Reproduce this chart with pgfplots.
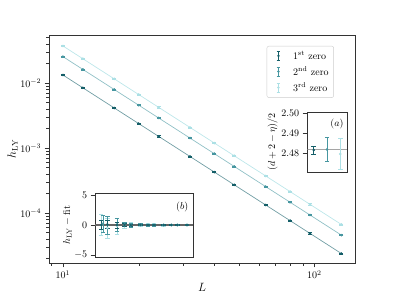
\documentclass[border=0pt]{standalone}
\usepackage{pgfplots}
\pgfplotsset{compat=1.18}
\definecolor{cA}{RGB}{20,94,104}
\definecolor{cB}{RGB}{70,150,160}
\definecolor{cC}{RGB}{172,224,229}
\newcommand\eblegend[1]{\addlegendimage{legend image code/.code={%
 \path[draw=none] (0cm,0cm) -- (0.75cm,0cm);
 \draw[color=#1,line width=0.7pt] (0.3cm,-0.16cm)--(0.3cm,0.16cm) (0.24cm,-0.16cm)--(0.36cm,-0.16cm) (0.24cm,0.16cm)--(0.36cm,0.16cm);
 \fill[color=#1] (0.3cm,0cm) circle (1pt);}}}
\pgfplotsset{
 ebstyle/.style={color=#1, only marks, mark=*, mark size=1.1pt, error bars/.cd, y dir=both, y explicit, error bar style={color=#1,line width=0.7pt}, error mark options={color=#1,rotate=90,mark size=2.2pt,line width=0.7pt}, /pgfplots/.cd},
 mainebstyle/.style={color=#1, only marks, mark=*, mark size=1.1pt, error bars/.cd, y dir=both, y fixed relative=0.02, error bar style={color=#1,line width=0.7pt}, error mark options={color=#1,rotate=90,mark size=2pt,line width=0.7pt}, /pgfplots/.cd},
}
\begin{document}
\begin{tikzpicture}
\path[use as bounding box] (-49pt,-33pt) rectangle (346pt,263pt);
\begin{axis}[at={(0pt,0pt)}, anchor=south west, scale only axis, width=306pt, height=228pt,
 xmode=log, ymode=log, xmin=8.8, xmax=145, ymin=1.7e-5, ymax=0.0547,
 axis line style={black!80}, tick style={black!80}, tick align=outside, tick pos=left,
 xlabel={$L$}, ylabel={$h_{\rm LY}$}, label style={font=\large},
 xlabel style={yshift=3pt}, ylabel style={yshift=-4pt},
 legend style={at={(0.931,0.952)}, anchor=north east, draw=black!20, rounded corners=2pt, fill=white, font=\normalsize, row sep=2pt, inner sep=3pt},
 legend cell align=left]
\eblegend{cA}
\addlegendentry{1$^{\rm st}$ zero}
\eblegend{cB}
\addlegendentry{2$^{\rm nd}$ zero}
\eblegend{cC}
\addlegendentry{3$^{\rm rd}$ zero}
\addplot[cA, opacity=0.6, line width=0.7pt, forget plot] coordinates {(10,0.01325)(12,0.008426)(16,0.004127)(20,0.002374)(24,0.001510)(32,0.0007399)(40,0.0004255)(48,0.0002707)(64,0.0001327)(80,7.628e-5)(96,4.853e-5)(128,2.377e-5)};
\addplot[cB, opacity=0.6, line width=0.7pt, forget plot] coordinates {(10,0.02541)(12,0.01616)(16,0.007921)(20,0.004555)(24,0.002898)(32,0.001420)(40,0.0008164)(48,0.0005194)(64,0.0002544)(80,0.0001463)(96,9.311e-5)(128,4.561e-5)};
\addplot[cC, opacity=0.8, line width=0.7pt, forget plot] coordinates {(10,0.03707)(12,0.02359)(16,0.01156)(20,0.006645)(24,0.004227)(32,0.002071)(40,0.001191)(48,0.0007578)(64,0.0003712)(80,0.0002134)(96,0.0001358)(128,6.652e-5)};
\addplot[forget plot, mainebstyle=cA] coordinates {(10,0.01325)(12,0.008426)(16,0.004127)(20,0.002374)(24,0.001510)(32,0.0007399)(40,0.0004255)(48,0.0002707)(64,0.0001327)(80,7.628e-5)(96,4.853e-5)(128,2.377e-5)};
\addplot[forget plot, mainebstyle=cB] coordinates {(10,0.02541)(12,0.01616)(16,0.007921)(20,0.004555)(24,0.002898)(32,0.001420)(40,0.0008164)(48,0.0005194)(64,0.0002544)(80,0.0001463)(96,9.311e-5)(128,4.561e-5)};
\addplot[forget plot, mainebstyle=cC] coordinates {(10,0.03707)(12,0.02359)(16,0.01156)(20,0.006645)(24,0.004227)(32,0.002071)(40,0.001191)(48,0.0007578)(64,0.0003712)(80,0.0002134)(96,0.0001358)(128,6.652e-5)};
\end{axis}
% inset (a)
\begin{axis}[at={(258pt,91pt)}, anchor=south west, scale only axis, width=40pt, height=60pt,
 xmin=-0.5, xmax=2.5, ymin=2.4705, ymax=2.5005, xtick=\empty, ytick={2.48,2.49,2.50},
 yticklabel style={/pgf/number format/fixed,/pgf/number format/precision=2,/pgf/number format/fixed zerofill},
 ylabel={$(d+2-\eta)/2$}, ylabel style={yshift=-3pt},
 axis background/.style={fill=white}, axis line style={black!80}, tick style={black!80}, tick align=outside, tick pos=left]
\addplot[gray, opacity=0.7, line width=1pt] coordinates {(-0.5,2.4815) (2.5,2.4815)};
\addplot[ebstyle=cA] coordinates {(0,2.4815) +- (0,0.002)};
\addplot[ebstyle=cB] coordinates {(1,2.4818) +- (0,0.0058)};
\addplot[ebstyle=cC] coordinates {(2,2.4795) +- (0,0.0079)};
\node[anchor=center] at (rel axis cs:0.75,0.8) {$(a)$};
\end{axis}
% inset (b)
\begin{axis}[at={(46pt,6pt)}, anchor=south west, scale only axis, width=98pt, height=64pt,
 xmode=log, xmin=8.3, xmax=153, xtick=\empty, ymin=-5.4, ymax=5.4, ytick={-5,0,5},
 ylabel={$h_{\rm LY}-{\rm fit}$}, ylabel style={yshift=-4pt},
 axis background/.style={fill=white}, axis line style={black!80}, tick style={black!80}, tick align=outside, tick pos=left]
\addplot[black!60, line width=1.1pt] coordinates {(8.3,0) (153,0)};
\addplot[ebstyle=cC] coordinates {(10,0)+-(0,1.8) (12,-0.5)+-(0,1.7) (16,-0.2)+-(0,1.3) (20,0)+-(0,0.5) (24,0)+-(0,0.4) (32,0)+-(0,0.3) (40,0)+-(0,0.2) (48,0)+-(0,0.2) (64,0)+-(0,0.15) (80,0)+-(0,0.12) (96,0)+-(0,0.1) (128,0)+-(0,0.1)};
\addplot[ebstyle=cB] coordinates {(10.5,0.2)+-(0,1.4) (12,0)+-(0,1.5) (16,0.1)+-(0,1.1) (20,0.1)+-(0,0.4) (24,-0.1)+-(0,0.3) (32,0.1)+-(0,0.2) (40,0)+-(0,0.15) (48,0)+-(0,0.15) (64,0)+-(0,0.1) (80,0)+-(0,0.1) (96,0)+-(0,0.08) (128,0)+-(0,0.08)};
\addplot[ebstyle=cA] coordinates {(10,0)+-(0,0.8) (12,0.1)+-(0,0.7) (16,0)+-(0,0.5) (20,0)+-(0,0.2) (24,0)+-(0,0.15) (32,0)+-(0,0.1) (40,0)+-(0,0.08) (48,0)+-(0,0.08) (64,0)+-(0,0.06) (80,0)+-(0,0.05) (96,0)+-(0,0.05) (128,0)+-(0,0.05)};
\node[anchor=south west, inner sep=1pt] at (rel axis cs:0,1) {$\times10^{-5}$};
\node[anchor=center] at (rel axis cs:0.89,0.78) {$(b)$};
\end{axis}
\end{tikzpicture}
\end{document}
